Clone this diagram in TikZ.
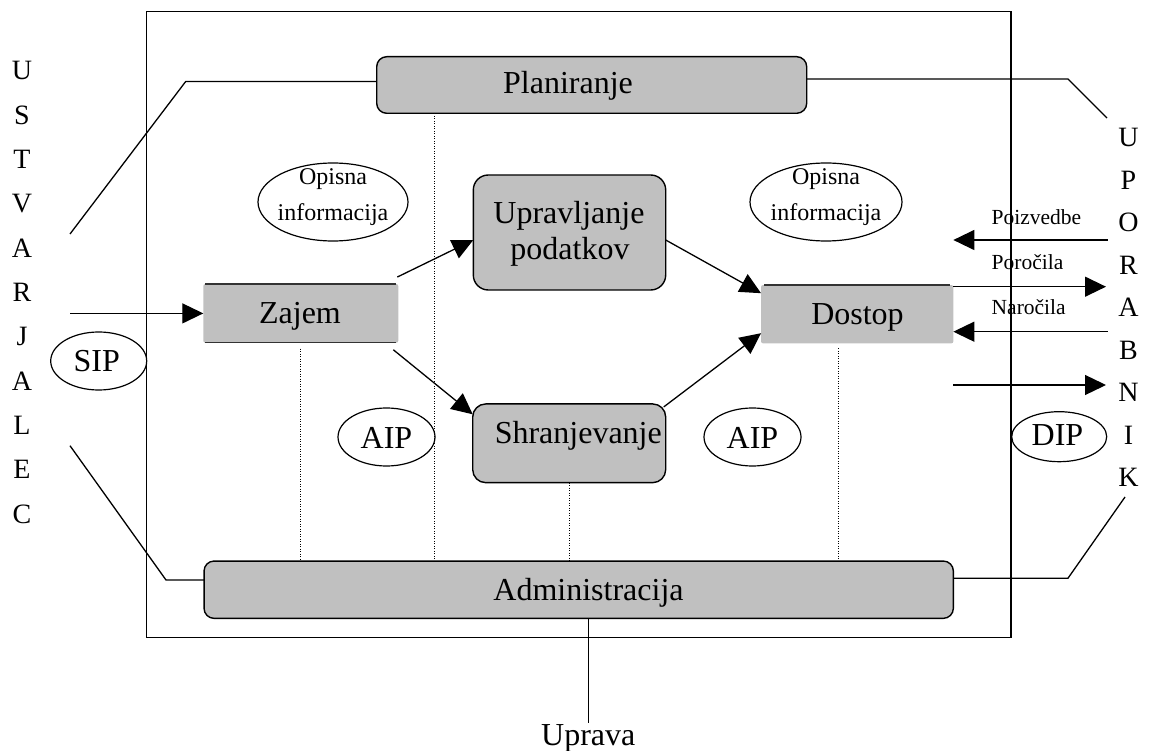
\documentclass[tikz,border=0pt]{standalone}
\usepackage{fontspec}
\setmainfont{Liberation Serif}
\usetikzlibrary{arrows.meta,calc,shapes.geometric}
\definecolor{boxgray}{RGB}{192,192,192}
\begin{document}
\begin{tikzpicture}[x=1pt,y=-1pt,
  every node/.style={inner sep=0pt, outer sep=0pt},
  big/.style={font=\fontsize{32}{36}\selectfont},
  mid/.style={font=\fontsize{24}{28}\selectfont},
  letter/.style={font=\fontsize{28}{30}\selectfont, anchor=base},
  small/.style={font=\fontsize{21.5}{24}\selectfont, anchor=base west},
  procbox/.style={draw=black, line width=1.4pt, fill=boxgray, rounded corners=#1},
  procbox/.default=10pt,
  flatbox/.style={fill=boxgray, rounded corners=2pt},
  bubble/.style={draw, ellipse, line width=1.2pt},
  wire/.style={line width=1.3pt},
  arr/.style={line width=1.3pt, -{Triangle[length=21pt,width=20pt]}},
  guide/.style={line width=1pt, dash pattern=on 1pt off 1.5pt},
]
\useasboundingbox (0,0) rectangle (1152,751);

% system frame
\draw[line width=1.4pt] (146.7,11.7) rectangle (1011,637.3);

% functional boxes
\node[procbox, minimum width=430pt, minimum height=56.6pt] (plan) at (591.7,85) {};
\node[procbox=15pt, minimum width=192.4pt, minimum height=115pt] (upr) at (569.5,232.5) {};
\node[procbox=13pt, minimum width=193pt, minimum height=78.7pt] (shran) at (569.2,443.3) {};
\node[procbox, minimum width=749.3pt, minimum height=57.3pt] (adm) at (578.7,589.7) {};
\node[flatbox, minimum width=195pt, minimum height=58.7pt] (zajem) at (300.8,313.4) {};
\node[flatbox, minimum width=192.3pt, minimum height=58.3pt] (dostop) at (857.2,314.2) {};
\draw[line width=1.2pt, black!80] ([xshift=2pt]zajem.north west) -- ([xshift=-2pt]zajem.north east);
\draw[line width=1.2pt, black!80] ([xshift=2pt]zajem.south west) -- ([xshift=-2pt]zajem.south east);
\draw[line width=1.2pt, black!80] ([xshift=3pt]dostop.north west) -- ([xshift=-3pt]dostop.north east);

% box captions
\node[big, anchor=base] (plan-t) at (568,93.3) {Planiranje};
\node[big, anchor=base] (upr-t1) at (569,223.3) {Upravljanje};
\node[big, anchor=base] (upr-t2) at (570,260) {podatkov};
\node[big, anchor=base] (shran-t) at (578.3,443.3) {Shranjevanje};
\node[big, anchor=base] (adm-t) at (588.5,600) {Administracija};
\node[big, anchor=base] (zajem-t) at (300,324) {Zajem};
\node[big, anchor=base] (dostop-t) at (857.5,325) {Dostop};
\node[big, anchor=base] (uprava) at (588.3,745) {Uprava};

% information packages
\node[bubble, minimum width=150pt, minimum height=78pt] (op1) at (333,202) {};
\node[bubble, minimum width=152pt, minimum height=78pt] (op2) at (826,202) {};
\node[mid, anchor=base] (op1-a) at (333,185) {Opisna};
\node[mid, anchor=base] (op1-b) at (333,221) {informacija};
\node[mid, anchor=base] (op2-a) at (826,185) {Opisna};
\node[mid, anchor=base] (op2-b) at (826,221) {informacija};
\node[bubble, minimum width=96pt, minimum height=58pt] (sip) at (98.7,361) {};
\node[big, anchor=base] (sip-t) at (96.7,371.7) {SIP};
\node[bubble, minimum width=97pt, minimum height=58pt] (aip1) at (386.5,437) {};
\node[big, anchor=base] (aip1-t) at (386.5,448) {AIP};
\node[bubble, minimum width=97pt, minimum height=58pt] (aip2) at (752.5,437) {};
\node[big, anchor=base] (aip2-t) at (752.5,448) {AIP};
\node[bubble, minimum width=95pt, minimum height=50pt] (dip) at (1059.2,436.7) {};
\node[big, anchor=base] (dip-t) at (1057.5,445) {DIP};

% producer and consumer columns
\foreach \ch [count=\i from 0] in {U,S,T,V,A,R,J,A,L,E,C}
  \node[letter] (prod-\i) at (22,80+44.3*\i) {\ch};
\foreach \ch [count=\i from 0] in {U,P,O,R,A,B,N,I,K}
  \node[letter] (cons-\i) at (1128.5,146.7+42.5*\i) {\ch};

% links of planning and administration to the outside
\coordinate (tl-a) at (185.7,81.5);
\coordinate (tl-b) at (70,234);
\coordinate (tr-a) at (1068,79);
\coordinate (tr-b) at (1107,118);
\coordinate (bl-a) at (166,580);
\coordinate (bl-b) at (70,445.7);
\coordinate (br-a) at (1068,578.2);
\coordinate (br-b) at (1125,497);
\draw[wire] ([yshift=3.5pt]plan.west) -- (tl-a) -- (tl-b);
\draw[wire] ([yshift=6pt]plan.east) -- (tr-a) -- (tr-b);
\draw[wire] ([yshift=9.7pt]adm.west) -- (bl-a) -- (bl-b);
\draw[wire] ([yshift=11.5pt]adm.east) -- (br-a) -- (br-b);
\draw[wire] (adm.south -| uprava) -- ([yshift=1pt]uprava.north);

% dotted guides down to administration
\coordinate (g2) at (434.7,0);
\coordinate (g4) at (838,0);
\draw[guide] ([yshift=-6pt]zajem.south) -- (zajem.south |- adm.north);
\draw[guide] (g2 |- plan.south) -- (g2 |- adm.north);
\draw[guide] (shran.south) -- (shran.south |- adm.north);
\draw[guide] ([yshift=-5pt]g4 |- dostop.south) -- (g4 |- adm.north);

% data flow
\coordinate (sip-in) at (70,313.4);
\draw[arr] (sip-in) -- (zajem.west);
\draw[arr] ($(zajem.north east)+(-1,-7)$) -- ($(upr.west)+(0,7.5)$);
\draw[arr] ($(zajem.south east)+(-5,7)$) -- ($(shran.west)+(0,-29)$);
\draw[arr] ($(upr.east)+(0,7.5)$) -- ($(dostop.west)+(0,-21)$);
\draw[arr] ($(shran.north east)+(-2,3)$) -- ($(dostop.west)+(0,19)$);

% consumer side requests and deliveries
\coordinate (q1) at (1107.7,240);
\coordinate (q2) at (1106,286.7);
\coordinate (q3) at (1107.7,331.7);
\coordinate (q4) at (1106,385);
\draw[arr] (q1) -- (dostop.east |- q1);
\draw[arr] (dostop.east |- q2) -- (q2);
\draw[arr] (q3) -- (dostop.east |- q3);
\draw[arr] (dostop.east |- q4) -- (q4);
\node[small] (poizv) at (991.7,225) {Poizvedbe};
\node[small] (poroc) at (991.7,270) {Poročila};
\node[small] (naroc) at (991.7,315) {Naročila};
\end{tikzpicture}
\end{document}
